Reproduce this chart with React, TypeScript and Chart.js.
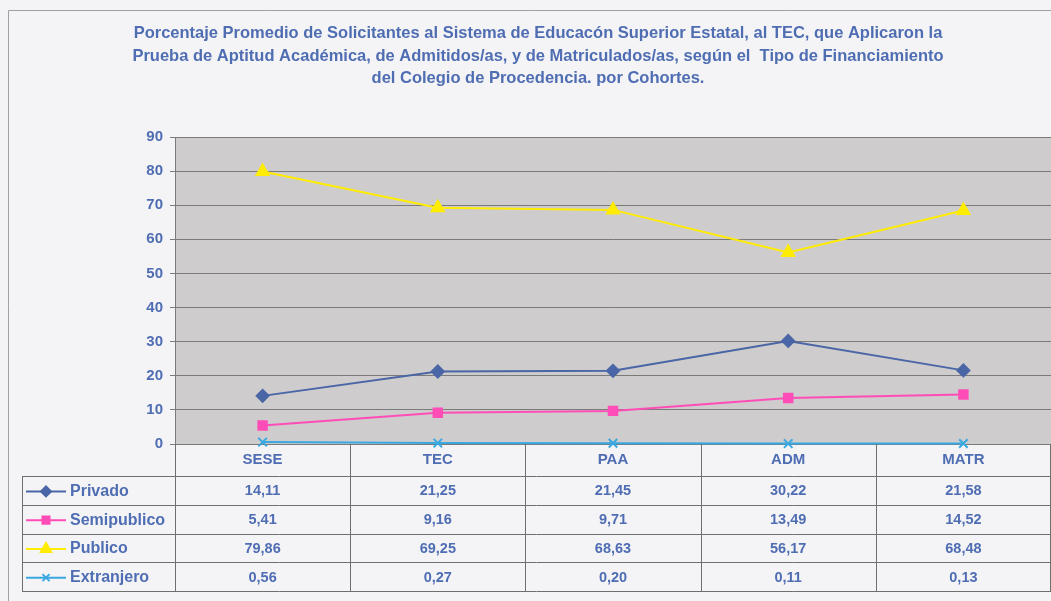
import { useEffect, useRef } from "react";
import { Chart, registerables } from "chart.js";
import { drawPoint } from "chart.js/helpers";

Chart.register(...registerables);

const categories = ["SESE", "TEC", "PAA", "ADM", "MATR"];
const seriesNames = ["Privado", "Semipublico", "Publico", "Extranjero"];
const privado = [14.11, 21.25, 21.45, 30.22, 21.58];
const semipublico = [5.41, 9.16, 9.71, 13.49, 14.52];
const publico = [79.86, 69.25, 68.63, 56.17, 68.48];
const extranjero = [0.56, 0.27, 0.2, 0.11, 0.13];
const yTicks = [0, 10, 20, 30, 40, 50, 60, 70, 80, 90];
const titleLines = [
  "Porcentaje Promedio de Solicitantes al Sistema de Educacón Superior Estatal, al TEC, que Aplicaron la",
  "Prueba de Aptitud Académica, de Admitidos/as, y de Matriculados/as, según el  Tipo de Financiamiento",
  "del Colegio de Procedencia. por Cohortes.",
];

const TEXT = "#4f6db3";
const FONT = "'Liberation Sans', Arial, sans-serif";
const seriesValues = [privado, semipublico, publico, extranjero];
const seriesColors = ["#4a66a6", "#ff4db8", "#ffec00", "#3aa8e0"];
const seriesPoint = ["rectRot", "rect", "triangle", "crossRot"];
const seriesRadius = [6, 6, 7, 6];

const fmt = (v: number) => v.toFixed(2).replace(".", ",");

export default function App() {
  const ref = useRef<HTMLCanvasElement | null>(null);
  useEffect(() => {
    if (!ref.current) return;
    const bgPlugin = {
      id: "bg",
      beforeDraw(chart: any) {
        const { ctx, chartArea } = chart;
        ctx.save();
        ctx.fillStyle = "#f4f4f6";
        ctx.fillRect(0, 0, chart.width, chart.height);
        ctx.fillStyle = "#cecccd";
        ctx.fillRect(chartArea.left, chartArea.top, chartArea.right - chartArea.left, chartArea.bottom - chartArea.top);
        ctx.restore();
      },
      afterDraw(chart: any) {
        const { ctx, chartArea } = chart;
        const x = chart.scales.x;
        ctx.save();
        // frame
        ctx.strokeStyle = "#a0a0a0";
        ctx.lineWidth = 1;
        ctx.beginPath();
        ctx.moveTo(8.5, chart.height);
        ctx.lineTo(8.5, 10.5);
        ctx.lineTo(chart.width, 10.5);
        ctx.stroke();
        // title
        ctx.fillStyle = TEXT;
        ctx.font = `bold 16.5px ${FONT}`;
        ctx.textAlign = "center";
        ctx.textBaseline = "middle";
        titleLines.forEach((t, i) => ctx.fillText(t, 538, 33.5 + i * 22.5));
        // table
        const half = (x.getPixelForValue(1) - x.getPixelForValue(0)) / 2;
        const bounds = categories.map((_, i) => x.getPixelForValue(i) - half);
        bounds.push(x.getPixelForValue(categories.length - 1) + half);
        const top0 = chartArea.bottom;
        const headTop = top0 + 32;
        const rowH = 28.75;
        const bottom = headTop + rowH * seriesNames.length;
        const tableLeft = 22;
        ctx.strokeStyle = "#6f6f6f";
        ctx.lineWidth = 1;
        ctx.beginPath();
        bounds.forEach((b) => {
          const bx = Math.min(Math.round(b) + 0.5, chart.width - 0.5);
          ctx.moveTo(bx, top0);
          ctx.lineTo(bx, bottom);
        });
        ctx.moveTo(tableLeft + 0.5, headTop);
        ctx.lineTo(tableLeft + 0.5, bottom);
        for (let r = 0; r <= seriesNames.length; r++) {
          const yy = Math.round(headTop + r * rowH) + 0.5;
          ctx.moveTo(tableLeft, yy);
          ctx.lineTo(chart.width, yy);
        }
        ctx.stroke();
        ctx.textBaseline = "middle";
        seriesNames.forEach((name, r) => {
          const cy = headTop + r * rowH + rowH / 2 + 1;
          ctx.strokeStyle = seriesColors[r];
          ctx.lineWidth = 2;
          ctx.beginPath();
          ctx.moveTo(26, cy);
          ctx.lineTo(66, cy);
          ctx.stroke();
          ctx.fillStyle = seriesColors[r];
          drawPoint(ctx, { pointStyle: seriesPoint[r], radius: seriesRadius[r] - 1, borderWidth: 2, rotation: 0 } as any, 46, cy);
          if (seriesPoint[r] !== "crossRot") ctx.fill();
          ctx.fillStyle = TEXT;
          ctx.textAlign = "left";
          ctx.font = `bold 16px ${FONT}`;
          ctx.fillText(name, 70, cy);
          ctx.textAlign = "center";
          ctx.font = `bold 14.5px ${FONT}`;
          seriesValues[r].forEach((v, i) => {
            ctx.fillText(fmt(v), x.getPixelForValue(i), cy);
          });
        });
        ctx.restore();
      },
    };

    const chart = new Chart(ref.current, {
      type: "line",
      data: {
        labels: categories,
        datasets: seriesNames.map((name, i) => ({
          label: name,
          data: seriesValues[i],
          borderColor: seriesColors[i],
          backgroundColor: seriesColors[i],
          borderWidth: 2,
          pointStyle: seriesPoint[i] as any,
          pointRadius: seriesRadius[i],
          pointBorderWidth: 2,
          pointBorderColor: seriesColors[i],
          pointBackgroundColor: seriesColors[i],
          tension: 0,
          clip: 8,
        })),
      },
      options: {
        responsive: false,
        animation: false,
        layout: { autoPadding: false, padding: { left: 0, right: 0, top: 137, bottom: 127 } },
        plugins: {
          legend: { display: false },
          title: { display: false },
          tooltip: { enabled: false },
        },
        scales: {
          x: {
            offset: true,
            grid: { display: false, drawTicks: false },
            border: { display: false },
            ticks: {
              color: TEXT,
              font: { family: FONT, size: 15, weight: "bold" },
              padding: 7,
              maxRotation: 0,
            },
            afterFit(scale: any) {
              scale.height = 30;
              scale.paddingLeft = 0;
              scale.paddingRight = 0;
            },
          },
          y: {
            min: 0,
            max: 90,
            afterBuildTicks(scale: any) {
              scale.ticks = yTicks.map((v) => ({ value: v }));
            },
            grid: { color: "#7a7a7a", lineWidth: 1, drawTicks: true, tickLength: 5, tickColor: "#7a7a7a" },
            border: { display: true, color: "#7a7a7a" },
            ticks: {
              color: TEXT,
              font: { family: FONT, size: 15, weight: "bold" },
              padding: 7,
            },
            afterFit(scale: any) {
              scale.width = 175;
            },
          },
        },
      },
      plugins: [bgPlugin],
    });
    return () => chart.destroy();
  }, []);

  return (
    <div style={{ position: "absolute", left: 0, top: 0, width: 1051, height: 601 }}>
      <canvas ref={ref} width={1051} height={601} style={{ display: "block" }} />
    </div>
  );
}
